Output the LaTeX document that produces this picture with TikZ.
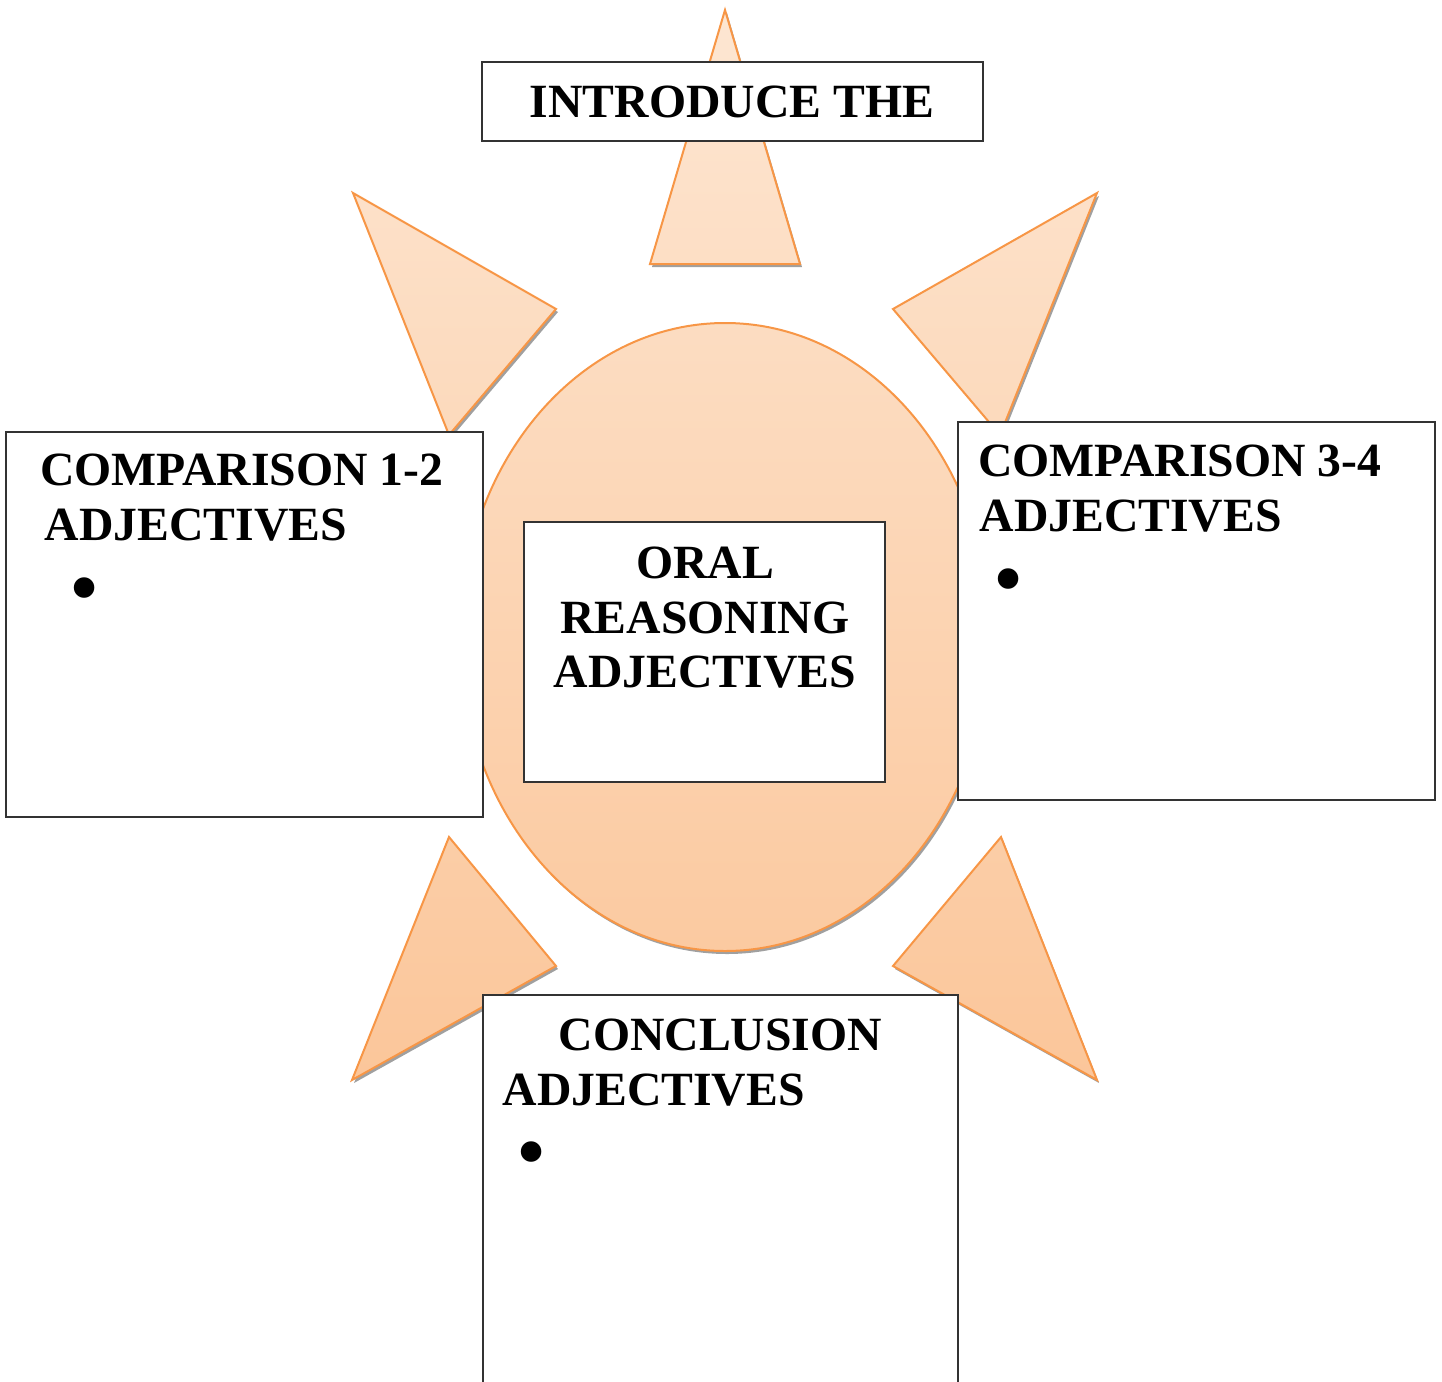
\documentclass[tikz,border=0pt]{standalone}
\usepackage{fontspec}
\setmainfont{Liberation Serif}
\usepackage{tikz}

\definecolor{sunTop}{RGB}{253,230,210}
\definecolor{sunBot}{RGB}{251,198,154}
\definecolor{sunLine}{RGB}{247,150,70}
\definecolor{rayShadow}{RGB}{160,160,160}

% rays and body of the sun, as one path
\newcommand{\sunparts}{%
  (725,10) -- (800,264) -- (650,264) -- cycle
  (353,193) -- (556,309) -- (449,435) -- cycle
  (1097,193) -- (893,309) -- (1000,435) -- cycle
  (449,837) -- (556,966) -- (352,1080) -- cycle
  (1001,837) -- (1097,1080) -- (893,966) -- cycle
  (725,637) ellipse [x radius=265, y radius=314]}

\tikzset{
  card/.style={draw=black!80, line width=1.4pt, fill=white, inner sep=0pt},
  heading/.style={font=\fontsize{47.7}{55}\selectfont\bfseries, inner sep=0pt},
  dotmark/.style={font=\fontsize{86}{90}\selectfont, inner sep=0pt, anchor=base}
}

\begin{document}
\begin{tikzpicture}[x=1pt,y=-1pt]
  \useasboundingbox (0,0) rectangle (1442,1381);
  \clip (0,0) rectangle (1442,1381);

  \fill[rayShadow, shift={(2,3)}] \sunparts;
  \shade[top color=sunTop, bottom color=sunBot, draw=sunLine, line width=2pt, line join=miter] \sunparts;

  % boxes
  \node[card, minimum width=501pt, minimum height=79pt] (intro) at (732.5,101.5) {};
  \node[card, minimum width=477pt, minimum height=385pt] (compL) at (244.5,624.5) {};
  \node[card, minimum width=361pt, minimum height=260pt] (oral) at (704.5,652) {};
  \node[card, minimum width=477pt, minimum height=378pt] (compR) at (1196.5,611) {};
  \node[card, minimum width=475pt, minimum height=420pt] (concl) at (720.5,1205) {};

  % texts
  \node[heading, anchor=base] (introT) at (732,117.5) {INTRODUCE THE};
  \node[heading, anchor=base west] (compLa) at (40,485.7) {COMPARISON 1-2};
  \node[heading, anchor=base west] (compLb) at (44.5,540.7) {ADJECTIVES};
  \node[heading, anchor=base] (oralA) at (705,578) {ORAL};
  \node[heading, anchor=base] (oralB) at (705,633) {REASONING};
  \node[heading, anchor=base] (oralC) at (705,687.5) {ADJECTIVES};
  \node[heading, anchor=base west] (compRa) at (977.8,476.7) {COMPARISON 3-4};
  \node[heading, anchor=base west] (compRb) at (979.4,531.7) {ADJECTIVES};
  \node[heading, anchor=base] (conclA) at (720.3,1050.7) {CONCLUSION};
  \node[heading, anchor=base west] (conclB) at (502.4,1105) {ADJECTIVES};

  \node[dotmark] (dotL) at (84.3,616) {•};
  \node[dotmark] (dotR) at (1008.3,607) {•};
  \node[dotmark] (dotC) at (531.7,1180) {•};
\end{tikzpicture}
\end{document}
